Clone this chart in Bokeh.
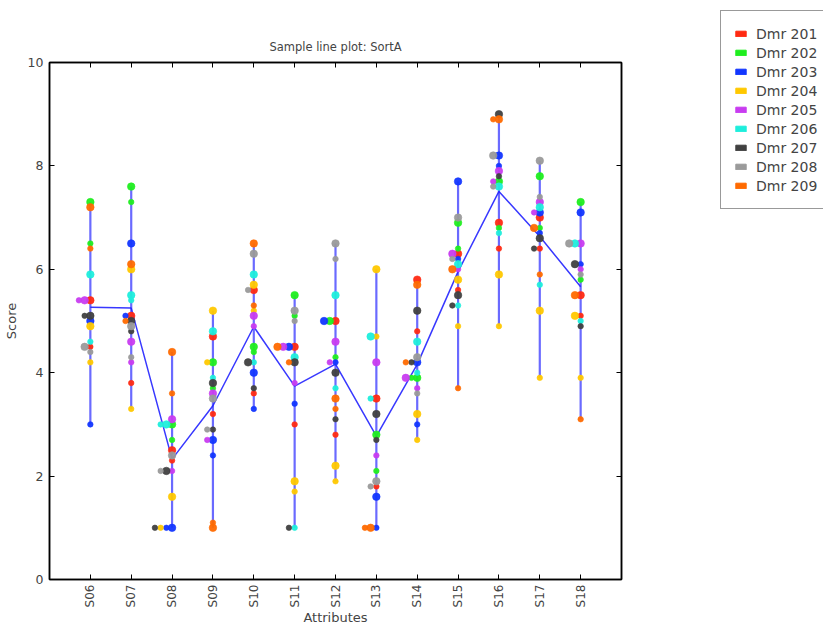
import math
from bokeh.plotting import figure
from bokeh.layouts import row, column
from bokeh.models import (Range1d, FixedTicker, LinearAxis, Legend, LegendItem,
                          ColumnDataSource)
from bokeh.embed import file_html
from bokeh.resources import INLINE

# ---------------- data ----------------
attributes = ["S06", "S07", "S08", "S09", "S10", "S11", "S12",
              "S13", "S14", "S15", "S16", "S17", "S18"]
dmr_names = ["Dmr 201", "Dmr 202", "Dmr 203", "Dmr 204", "Dmr 205",
             "Dmr 206", "Dmr 207", "Dmr 208", "Dmr 209"]
dmr_colors = ["#ff2a12", "#1fee1f", "#1236ff", "#ffc800", "#c83cf0",
              "#1eeedc", "#404040", "#9a9a9a", "#ff6a00"]
y_ticks = [0, 2, 4, 6, 8, 10]

# two scores per attribute for each Dmr (first, second)
dmr201 = [(5.4, 4.5), (5.1, 3.8), (2.5, 2.3), (4.7, 3.2), (5.6, 3.6), (4.5, 3.0), (5.0, 2.8),
          (3.5, 1.8), (5.8, 4.8), (6.3, 5.6), (6.9, 6.4), (7.0, 6.4), (5.5, 5.1)]
dmr202 = [(7.3, 6.5), (7.6, 7.3), (3.0, 2.7), (4.2, 3.7), (4.5, 4.4), (5.5, 5.1), (5.0, 4.3),
          (2.8, 2.1), (3.9, 3.9), (6.9, 6.4), (7.7, 6.8), (7.8, 6.8), (7.3, 5.8)]
dmr203 = [(5.0, 3.0), (6.5, 5.1), (1.0, 1.0), (2.7, 2.4), (4.0, 3.3), (4.5, 3.4), (5.0, 4.2),
          (1.6, 1.0), (4.2, 3.0), (7.7, 6.2), (8.2, 8.0), (7.1, 6.7), (7.1, 6.1)]
dmr204 = [(4.9, 4.2), (6.0, 3.3), (1.6, 1.0), (5.2, 4.2), (5.7, 5.2), (1.9, 1.7), (2.2, 1.9),
          (6.0, 4.7), (3.2, 2.7), (5.8, 4.9), (5.9, 4.9), (5.2, 3.9), (5.1, 3.9)]
dmr205 = [(5.4, 5.4), (4.6, 4.2), (3.1, 2.1), (3.6, 2.7), (5.1, 4.9), (4.5, 3.8), (4.6, 4.2),
          (4.2, 2.4), (3.9, 3.7), (6.3, 6.0), (7.9, 7.7), (7.3, 7.1), (6.5, 6.0)]
dmr206 = [(5.9, 4.6), (5.5, 5.4), (3.0, 3.0), (4.8, 3.9), (5.9, 4.2), (4.3, 1.0), (5.5, 3.7),
          (4.7, 3.5), (4.6, 4.0), (6.1, 5.3), (7.6, 6.7), (7.2, 5.7), (6.5, 5.0)]
dmr207 = [(5.1, 5.1), (5.0, 4.8), (2.1, 1.0), (3.8, 2.9), (4.2, 3.7), (4.2, 1.0), (4.0, 3.1),
          (3.2, 2.7), (5.2, 4.2), (5.5, 5.3), (9.0, 7.8), (6.6, 6.4), (6.1, 4.9)]
dmr208 = [(4.5, 4.4), (4.9, 4.3), (2.4, 2.1), (3.5, 2.9), (6.3, 5.6), (5.2, 5.0), (6.5, 6.2),
          (1.9, 1.8), (4.3, 3.6), (7.0, 6.2), (8.2, 7.6), (8.1, 7.4), (6.5, 5.9)]
dmr209 = [(7.2, 6.4), (6.1, 5.0), (4.4, 3.6), (1.0, 1.1), (6.5, 5.3), (4.5, 4.2), (3.5, 3.3),
          (1.0, 1.0), (5.7, 4.2), (6.0, 3.7), (8.9, 8.9), (6.8, 5.9), (5.5, 3.1)]

all_dmrs = [dmr201, dmr202, dmr203, dmr204, dmr205, dmr206, dmr207, dmr208, dmr209]

# ---------------- derived positions ----------------
JITTER = 0.14          # horizontal step for coincident scores
BIG, SMALL = 7.5, 5.5  # marker sizes for first / second score

xs, ys, cols, sizes = [], [], [], []
means, lows, highs = [], [], []
for i in range(len(attributes)):
    seen = {}
    vals = []
    for d, series in enumerate(all_dmrs):
        for k, v in enumerate(series[i]):
            key = round(v, 2)
            n = seen.get(key, 0)
            seen[key] = n + 1
            xs.append(i - n * JITTER)
            ys.append(v)
            cols.append(dmr_colors[d])
            sizes.append(BIG if k == 0 else SMALL)
            vals.append(v)
    means.append(sum(vals) / len(vals))
    lows.append(min(vals))
    highs.append(max(vals))

idx = list(range(len(attributes)))

# ---------------- main figure ----------------
p = figure(width=720, height=628, x_range=Range1d(-1, 13), y_range=Range1d(0, 10),
           output_backend="svg", toolbar_location=None,
           min_border_left=47, min_border_right=99, min_border_top=62, min_border_bottom=49,
           title="Sample line plot: SortA")
p.xgrid.visible = False
p.ygrid.visible = False
p.outline_line_color = "black"
p.outline_line_width = 1.5
p.background_fill_color = "white"
p.border_fill_color = "white"

p.title.align = "center"
p.title.text_font = "DejaVu Sans"
p.title.text_font_size = "11.5px"
p.title.text_font_style = "normal"
p.title.standoff = 17

for ax in (p.xaxis[0], p.yaxis[0]):
    ax.axis_line_width = 1.5
    ax.major_tick_in = 5
    ax.major_tick_out = 0
    ax.minor_tick_line_color = None
    ax.major_label_text_font = "DejaVu Sans"
    ax.major_label_text_font_size = "12px"
    ax.axis_label_text_font = "DejaVu Sans"
    ax.axis_label_text_font_size = "13px"
    ax.axis_label_text_font_style = "normal"

p.xaxis.ticker = FixedTicker(ticks=idx)
p.xaxis.major_label_overrides = {i: a for i, a in enumerate(attributes)}
p.xaxis.major_label_orientation = math.pi / 2
p.xaxis.axis_label = "Attributes"
p.xaxis.axis_label_standoff = 0
p.xaxis.major_label_standoff = 5

p.yaxis.ticker = FixedTicker(ticks=y_ticks)
p.yaxis.major_label_text_font_size = "12.5px"
p.yaxis.axis_label = "Score"
p.yaxis.axis_label_standoff = 6
p.yaxis.major_label_standoff = 6

# inward ticks on top and right (no labels)
top_ax = LinearAxis(ticker=FixedTicker(ticks=idx), major_tick_in=5, major_tick_out=0,
                    minor_tick_line_color=None, axis_line_width=1.5, major_label_standoff=0,
                    major_label_overrides={i: "" for i in idx})
right_ax = LinearAxis(ticker=FixedTicker(ticks=y_ticks), major_tick_in=5,
                      major_tick_out=0, minor_tick_line_color=None, axis_line_width=1.5,
                      major_label_standoff=0,
                      major_label_overrides={t: "" for t in y_ticks})
p.add_layout(top_ax, "above")
p.add_layout(right_ax, "right")

# range bars and mean line
p.segment(x0=idx, y0=lows, x1=idx, y1=highs, line_color="#3030ff", line_alpha=0.72,
          line_width=2.2)
p.line(idx, means, line_color="#2222ff", line_width=1.5, line_alpha=0.9)

# points
src = ColumnDataSource(dict(x=xs, y=ys, c=cols, s=sizes))
p.scatter("x", "y", source=src, marker="circle", size="s", fill_color="c",
          line_color="c", line_alpha=0.6, fill_alpha=0.95)

# ---------------- legend panel (separate canvas to the right) ----------------
lg = figure(width=103, height=628, x_range=Range1d(0, 1), y_range=Range1d(0, 1),
            output_backend="svg", toolbar_location=None, x_axis_type=None,
            y_axis_type=None, min_border=0)
lg.xgrid.visible = False
lg.ygrid.visible = False
lg.outline_line_color = None
lg.background_fill_color = "white"
lg.border_fill_color = "white"

nan = float("nan")
items = []
for name, color in zip(dmr_names, dmr_colors):
    r = lg.quad(left=[nan], right=[nan], top=[nan], bottom=[nan],
                fill_color=color, line_color=color)
    items.append(LegendItem(label=name, renderers=[r]))
legend = Legend(items=items, location=(0, 419), margin=0, padding=13, spacing=0,
                glyph_width=13, glyph_height=7, label_height=19, label_standoff=9,
                label_width=90,
                label_text_font="DejaVu Sans", label_text_font_size="14px",
                border_line_color="#333333", border_line_width=1.2,
                background_fill_color="white", background_fill_alpha=1.0)
lg.add_layout(legend, "center")

open("out.html", "w").write(file_html(row(p, column(lg)), INLINE))
